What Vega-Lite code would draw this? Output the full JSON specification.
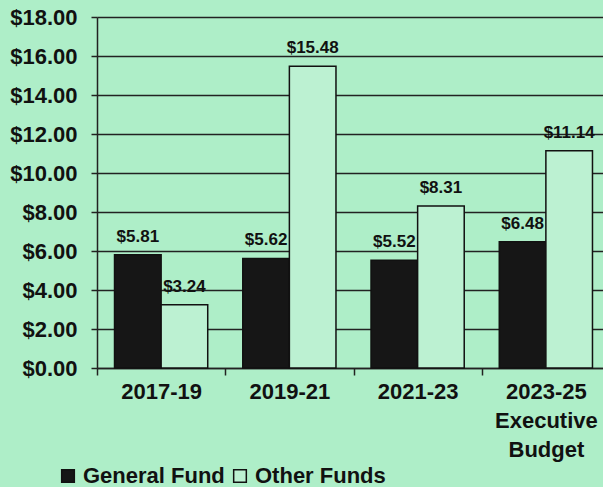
{
  "$schema": "https://vega.github.io/schema/vega-lite/v6.json",
  "width": 513,
  "height": 351,
  "background": "#aeeec8",
  "padding": {"left": 9, "top": 6, "right": 0, "bottom": 0},
  "data": {"values": [
    {"period": "2017-19", "fund": "General Fund", "value": 5.81},
    {"period": "2017-19", "fund": "Other Funds", "value": 3.24},
    {"period": "2019-21", "fund": "General Fund", "value": 5.62},
    {"period": "2019-21", "fund": "Other Funds", "value": 15.48},
    {"period": "2021-23", "fund": "General Fund", "value": 5.52},
    {"period": "2021-23", "fund": "Other Funds", "value": 8.31},
    {"period": "2023-25|Executive|Budget", "fund": "General Fund", "value": 6.48},
    {"period": "2023-25|Executive|Budget", "fund": "Other Funds", "value": 11.14}
  ]},
  "encoding": {
    "x": {
      "field": "period", "type": "nominal",
      "sort": ["2017-19", "2019-21", "2021-23", "2023-25|Executive|Budget"],
      "scale": {"paddingInner": 0, "paddingOuter": 0},
      "axis": {
        "title": null, "labelAngle": 0, "labelExpr": "split(datum.label, '|')",
        "labelFont": "Liberation Sans", "labelFontWeight": "bold", "labelFontSize": 22,
        "labelColor": "#111", "labelLineHeight": 29, "labelPadding": 6,
        "tickBand": "extent", "tickSize": 7, "tickColor": "#222", "tickWidth": 1.5,
        "domainColor": "#222", "domainWidth": 1.5
      }
    },
    "xOffset": {"field": "fund", "sort": ["General Fund", "Other Funds"], "scale": {"paddingInner": 0, "paddingOuter": 0.376}},
    "y": {
      "field": "value", "type": "quantitative",
      "scale": {"domain": [0, 18]},
      "axis": {
        "title": null, "values": [0, 2, 4, 6, 8, 10, 12, 14, 16, 18], "format": "$.2f",
        "labelFont": "Liberation Sans", "labelFontWeight": "bold", "labelFontSize": 22,
        "labelColor": "#111", "labelPadding": 14, "tickSize": 6, "tickColor": "#222", "tickWidth": 1.5,
        "grid": true, "gridColor": "#222", "gridWidth": 1.5,
        "domainColor": "#222", "domainWidth": 1.5
      }
    }
  },
  "layer": [
    {
      "mark": {"type": "bar", "stroke": "#111", "strokeWidth": 1.5},
      "encoding": {
        "color": {
          "field": "fund", "type": "nominal",
          "scale": {"domain": ["General Fund", "Other Funds"], "range": ["#161616", "#bcf1d2"]},
          "legend": {
            "title": null, "orient": "none", "direction": "horizontal",
            "legendX": -40, "legendY": 448,
            "symbolType": "square", "symbolSize": 160, "symbolStrokeColor": "#111", "symbolStrokeWidth": 1.5,
            "labelFont": "Liberation Sans", "labelFontWeight": "bold", "labelFontSize": 22,
            "labelColor": "#111", "labelOffset": 4, "columnPadding": 4, "labelLimit": 300
          }
        }
      }
    },
    {
      "mark": {"type": "text", "baseline": "alphabetic", "dy": -13, "font": "Liberation Sans", "fontWeight": "bold", "fontSize": 17, "color": "#111"},
      "encoding": {"text": {"field": "value", "type": "quantitative", "format": "$.2f"}}
    }
  ],
  "config": {"view": {"stroke": null}}
}
